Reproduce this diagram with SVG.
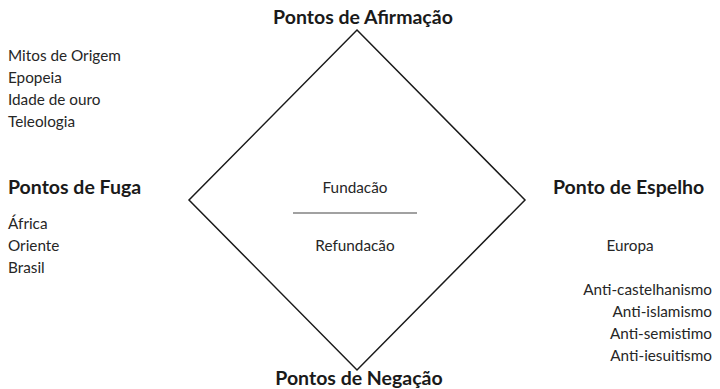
<svg xmlns="http://www.w3.org/2000/svg" width="720" height="389" viewBox="0 0 720 389">
<style>
text{font-family:Lato,"Open Sans","Liberation Sans",sans-serif;fill:#262626;font-size:15.3px}
.h{font-weight:bold;font-size:19.5px;fill:#1a1a1a}
.m{text-anchor:middle}
.r{text-anchor:end}
.ln{stroke:#1a1a1a;stroke-width:1.5;fill:none}
</style>
<rect width="720" height="389" fill="#fff"/>
<g id="connectors">
<polygon class="ln" points="357,30 525,200 357,370 189,200"/>
<line x1="293" y1="213" x2="417" y2="213" stroke="#444" stroke-width="1.2"/>
</g>
<g id="afirmacao"><text class="h m" x="363" y="24">Pontos de Afirmação</text></g>
<g id="origem">
<text x="8" y="61">Mitos de Origem</text>
<text x="8" y="83">Epopeia</text>
<text x="8" y="105">Idade de ouro</text>
<text x="8" y="127">Teleologia</text>
</g>
<g id="fuga">
<text class="h" x="8" y="194">Pontos de Fuga</text>
<text x="8" y="229">África</text>
<text x="8" y="251">Oriente</text>
<text x="8" y="273">Brasil</text>
</g>
<g id="centro">
<text class="m" x="355" y="193">Fundacão</text>
<text class="m" x="355" y="251">Refundacão</text>
</g>
<g id="espelho">
<text class="h" x="553" y="194">Ponto de Espelho</text>
<text class="m" x="630" y="251">Europa</text>
<text class="r" x="712" y="295">Anti-castelhanismo</text>
<text class="r" x="712" y="317">Anti-islamismo</text>
<text class="r" x="712" y="339">Anti-semistimo</text>
<text class="r" x="712" y="361">Anti-iesuitismo</text>
</g>
<g id="negacao"><text class="h m" x="359" y="385">Pontos de Negação</text></g>
</svg>
